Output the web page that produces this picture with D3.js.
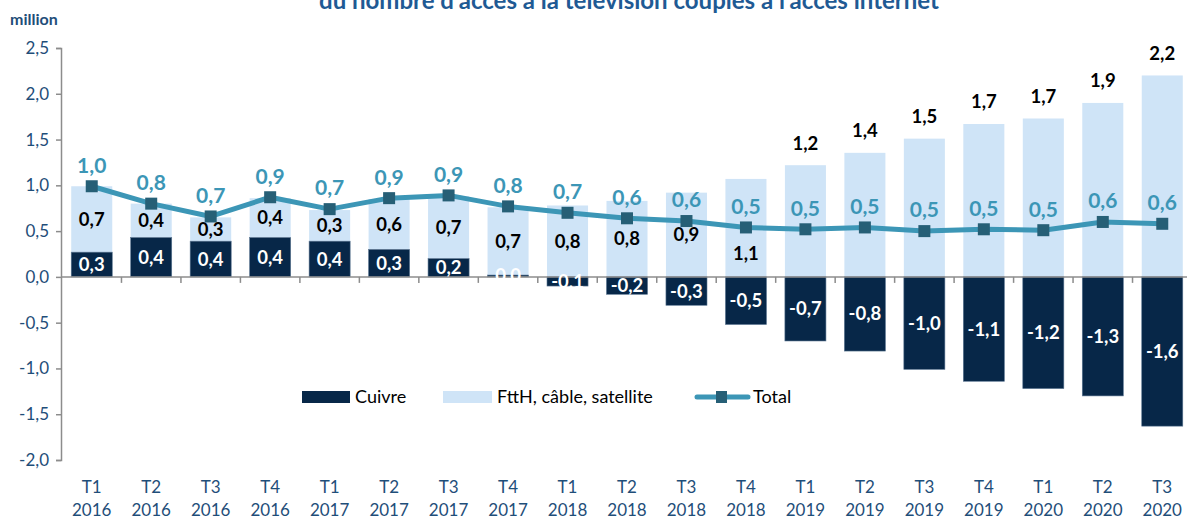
<!DOCTYPE html>
<html>
<head>
<meta charset="utf-8">
<script src="https://cdn.jsdelivr.net/npm/d3@7"></script>
<style>
  body { margin: 0; background: #fff; }
  text { font-family: Lato, "Open Sans", sans-serif; }
</style>
</head>
<body>
<script>
// quarters, two lines of label each
var quarters = ["T1","T2","T3","T4","T1","T2","T3","T4","T1","T2","T3","T4","T1","T2","T3","T4","T1","T2","T3"];
var years = ["2016","2016","2016","2016","2017","2017","2017","2017","2018","2018","2018","2018","2019","2019","2019","2019","2020","2020","2020"];

// millions
var cuivre = [0.27, 0.43, 0.39, 0.43, 0.39, 0.30, 0.20, 0.02, -0.10, -0.19, -0.31, -0.52, -0.70, -0.81, -1.01, -1.14, -1.22, -1.30, -1.63];
var ftth = [0.72, 0.37, 0.26, 0.43, 0.34, 0.55, 0.68, 0.74, 0.78, 0.83, 0.92, 1.07, 1.22, 1.355, 1.51, 1.67, 1.73, 1.90, 2.20];
var total = [0.99, 0.80, 0.66, 0.87, 0.74, 0.86, 0.89, 0.77, 0.70, 0.64, 0.61, 0.54, 0.52, 0.54, 0.50, 0.52, 0.51, 0.60, 0.58];

var yTicks = [2.5, 2.0, 1.5, 1.0, 0.5, 0.0, -0.5, -1.0, -1.5, -2.0];

var cats = quarters.map(function (q, i) { return q + " " + years[i]; });

var colCuivre = "#072748",
    colFtth = "#cfe4f7",
    colLine = "#3c96b6",
    colMarker = "#265f76",
    colAxisText = "#1f4e79";

var fr = function (v) { return d3.format(".1f")(v).replace(".", ",").replace("−", "-"); };

var svg = d3.select("body").append("svg")
  .attr("width", 1187)
  .attr("height", 520);

var x = d3.scaleBand()
  .domain(cats)
  .range([62, 1192])
  .paddingInner(0.31)
  .paddingOuter(0.155);

var y = d3.scaleLinear()
  .domain([-2, 2.5])
  .range([460, 48]);

// title, cut off at the top like in the source
svg.append("text")
  .attr("x", 629)
  .attr("y", 9)
  .attr("text-anchor", "middle")
  .attr("font-size", 24)
  .attr("font-weight", "bold")
  .attr("fill", "#1f5a94")
  .text("du nombre d'accès à la télévision couplés à l'accès internet");

svg.append("text")
  .attr("x", 10)
  .attr("y", 25)
  .attr("font-size", 16)
  .attr("font-weight", "bold")
  .attr("fill", colAxisText)
  .text("million");

// y axis
var yAxis = d3.axisLeft(y)
  .tickValues(yTicks)
  .tickSize(5)
  .tickFormat(fr);

var gy = svg.append("g")
  .attr("transform", "translate(61,0)")
  .call(yAxis);
gy.select(".domain").attr("stroke", "#8c8c8c").attr("stroke-width", 1.5);
gy.selectAll(".tick line").attr("stroke", "#8c8c8c").attr("stroke-width", 1.5);
gy.selectAll(".tick text")
  .attr("x", -12)
  .attr("font-size", 17)
  .attr("fill", colAxisText)
  .style("font-family", "Lato, sans-serif");

// bars
var bars = svg.append("g");

bars.selectAll(".ftth")
  .data(ftth)
  .enter()
  .append("rect")
  .attr("x", function (d, i) { return x(cats[i]); })
  .attr("width", x.bandwidth())
  .attr("y", function (d, i) { var b = Math.max(0, cuivre[i]); return y(b + d); })
  .attr("height", function (d, i) { var b = Math.max(0, cuivre[i]); return y(b) - y(b + d); })
  .attr("fill", colFtth);

bars.selectAll(".cuivre")
  .data(cuivre)
  .enter()
  .append("rect")
  .attr("x", function (d, i) { return x(cats[i]); })
  .attr("width", x.bandwidth())
  .attr("y", function (d) { return y(Math.max(0, d)); })
  .attr("height", function (d) { return Math.abs(y(d) - y(0)); })
  .attr("fill", colCuivre)
  .attr("stroke", "#5a7591")
  .attr("stroke-width", 0.6);

// x axis line and ticks between categories
svg.append("line")
  .attr("x1", 61).attr("x2", 1187)
  .attr("y1", y(0)).attr("y2", y(0))
  .attr("stroke", "#8c8c8c")
  .attr("stroke-width", 1.5);

svg.selectAll(".xtick")
  .data(cats.slice(1))
  .enter()
  .append("line")
  .attr("x1", function (d) { return x(d) - x.step() * x.paddingInner() / 2; })
  .attr("x2", function (d) { return x(d) - x.step() * x.paddingInner() / 2; })
  .attr("y1", y(0))
  .attr("y2", y(0) + 6)
  .attr("stroke", "#8c8c8c")
  .attr("stroke-width", 1.5);

var cx = function (i) { return x(cats[i]) + x.bandwidth() / 2; };

svg.selectAll(".qlab")
  .data(cats)
  .enter()
  .append("text")
  .attr("x", function (d, i) { return cx(i); })
  .attr("y", 493)
  .attr("text-anchor", "middle")
  .attr("font-size", 17)
  .attr("fill", colAxisText)
  .text(function (d, i) { return quarters[i]; });

svg.selectAll(".ylab")
  .data(cats)
  .enter()
  .append("text")
  .attr("x", function (d, i) { return cx(i); })
  .attr("y", 516)
  .attr("text-anchor", "middle")
  .attr("font-size", 17)
  .attr("fill", colAxisText)
  .text(function (d, i) { return years[i]; });

// total line
var line = d3.line()
  .x(function (d, i) { return cx(i); })
  .y(function (d) { return y(d); });

svg.append("path")
  .datum(total)
  .attr("d", line)
  .attr("fill", "none")
  .attr("stroke", colLine)
  .attr("stroke-width", 5)
  .attr("stroke-linejoin", "round");

svg.selectAll(".mk")
  .data(total)
  .enter()
  .append("rect")
  .attr("x", function (d, i) { return cx(i) - 6; })
  .attr("y", function (d) { return y(d) - 6; })
  .attr("width", 12)
  .attr("height", 12)
  .attr("fill", colMarker);

// labels: cuivre (white, centre of segment)
svg.selectAll(".lc")
  .data(cuivre)
  .enter()
  .append("text")
  .attr("x", function (d, i) { return cx(i); })
  .attr("y", function (d) { return (y(0) + y(d)) / 2; })
  .attr("dy", "0.35em")
  .attr("text-anchor", "middle")
  .attr("font-size", 18.5)
  .attr("font-weight", "bold")
  .attr("fill", "#fff")
  .text(fr);

// labels: ftth (black). centred up to T3 2018, under the line for T4 2018, above the bar after
svg.selectAll(".lf")
  .data(ftth)
  .enter()
  .append("text")
  .attr("x", function (d, i) { return cx(i); })
  .attr("y", function (d, i) {
    var b = Math.max(0, cuivre[i]);
    if (i >= 12) return y(b + d) - 22;
    if (i === 11) return y(total[i]) + 26;
    return (y(b) + y(b + d)) / 2;
  })
  .attr("dy", "0.35em")
  .attr("text-anchor", "middle")
  .attr("font-size", 18.5)
  .attr("font-weight", "bold")
  .attr("fill", "#000")
  .text(fr);

// labels: total (teal, above marker)
svg.selectAll(".lt")
  .data(total)
  .enter()
  .append("text")
  .attr("x", function (d, i) { return cx(i); })
  .attr("y", function (d) { return y(d) - 21; })
  .attr("dy", "0.35em")
  .attr("text-anchor", "middle")
  .attr("font-size", 21)
  .attr("font-weight", "bold")
  .attr("fill", colLine)
  .text(fr);

// legend
var lg = svg.append("g").attr("font-size", 18).attr("fill", "#000");

lg.append("rect").attr("x", 302).attr("y", 391).attr("width", 48).attr("height", 12).attr("fill", colCuivre);
lg.append("text").attr("x", 355).attr("y", 397).attr("dy", "0.35em").text("Cuivre");

lg.append("rect").attr("x", 443).attr("y", 391).attr("width", 49).attr("height", 12).attr("fill", colFtth);
lg.append("text").attr("x", 497).attr("y", 397).attr("dy", "0.35em").text("FttH, câble, satellite");

lg.append("line").attr("x1", 697).attr("x2", 748).attr("y1", 397).attr("y2", 397)
  .attr("stroke", colLine).attr("stroke-width", 5).attr("stroke-linecap", "round");
lg.append("rect").attr("x", 716).attr("y", 391).attr("width", 11).attr("height", 12).attr("fill", colMarker);
lg.append("text").attr("x", 753).attr("y", 397).attr("dy", "0.35em").text("Total");
</script>
</body>
</html>
